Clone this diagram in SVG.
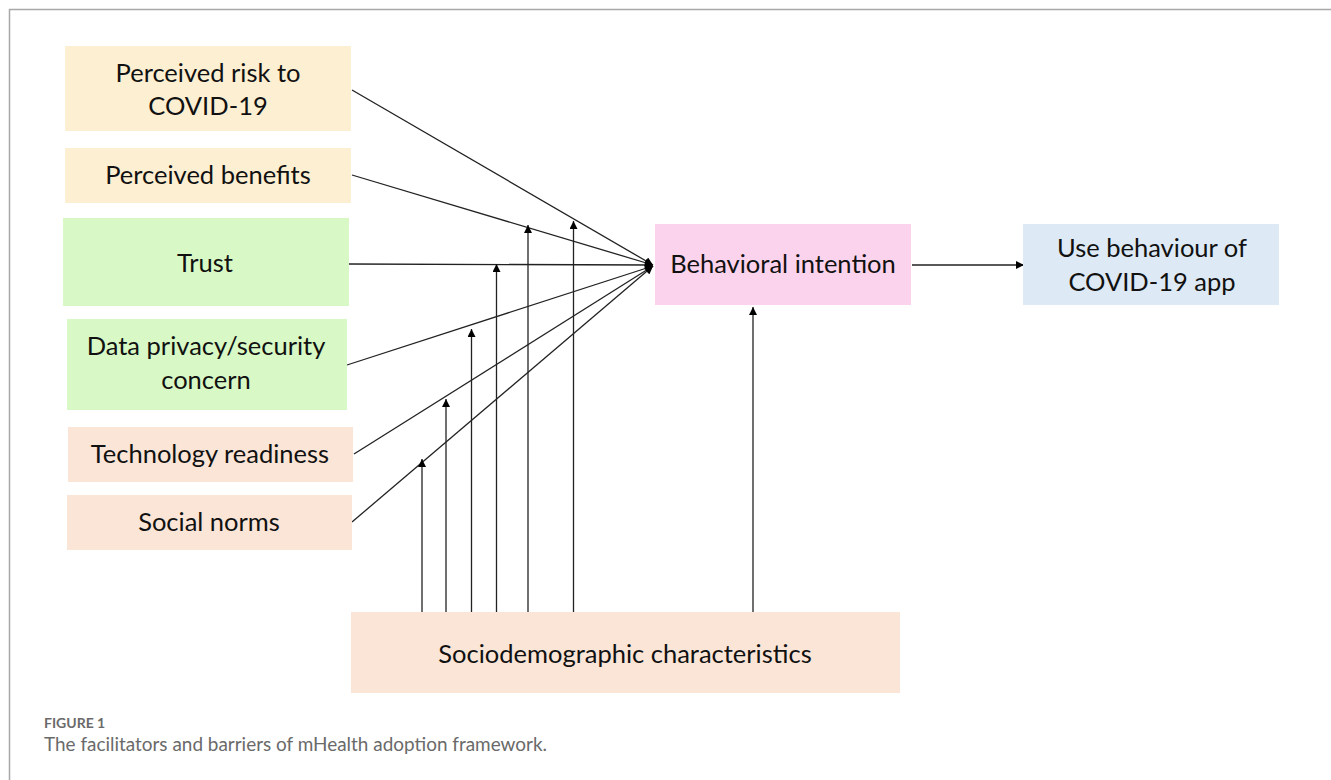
<svg xmlns="http://www.w3.org/2000/svg" width="1331" height="780" viewBox="0 0 1331 780">
<defs>
<marker id="ah" viewBox="0 0 10 10" refX="10" refY="5" markerWidth="10" markerHeight="8" markerUnits="userSpaceOnUse" orient="auto">
<path d="M0,0 L10,5 L0,10 z" fill="#000"/>
</marker>
</defs>
<style>
.lbl{font-family:Lato,"Liberation Sans",sans-serif;font-size:25.5px;fill:#111;text-anchor:middle}
.yel{fill:#fdefd2}
.grn{fill:#d8f9c5}
.pch{fill:#fae5d7}
.pnk{fill:#fcd3ec}
.blu{fill:#dde9f5}
.ln{stroke:#222;stroke-width:1.3;fill:none;marker-end:url(#ah)}
.cap{font-family:Lato,"Liberation Sans",sans-serif;fill:#6a6a6a}
</style>
<rect width="1331" height="780" fill="#fff"/>
<path d="M9.5,780 V9.5 H1331" fill="none" stroke="#a8a8a8" stroke-width="1.5"/>

<g id="connectors">
<line class="ln" x1="352" y1="90" x2="653" y2="265"/>
<line class="ln" x1="352" y1="175" x2="653" y2="265"/>
<line class="ln" x1="349" y1="264" x2="653" y2="265"/>
<line class="ln" x1="347" y1="365" x2="653" y2="266"/>
<line class="ln" x1="354" y1="454" x2="653" y2="266"/>
<line class="ln" x1="352" y1="522" x2="653" y2="266"/>
<line class="ln" x1="422" y1="612" x2="422" y2="459"/>
<line class="ln" x1="446" y1="612" x2="446" y2="399"/>
<line class="ln" x1="471.5" y1="612" x2="471.5" y2="329"/>
<line class="ln" x1="496.5" y1="612" x2="496.5" y2="264"/>
<line class="ln" x1="528" y1="612" x2="528" y2="225"/>
<line class="ln" x1="573.5" y1="612" x2="573.5" y2="221"/>
<line class="ln" x1="753" y1="612" x2="753" y2="307"/>
<line class="ln" x1="912" y1="265" x2="1024" y2="265"/>
</g>

<g id="n-risk">
<rect class="yel" x="65" y="46" width="286" height="85"/>
<text class="lbl" x="208" y="82">Perceived risk to</text>
<text class="lbl" x="208" y="115">COVID-19</text>
</g>
<g id="n-benefits">
<rect class="yel" x="65" y="148" width="286" height="55"/>
<text class="lbl" x="208" y="184">Perceived benefits</text>
</g>
<g id="n-trust">
<rect class="grn" x="63" y="218" width="286" height="88"/>
<text class="lbl" x="205" y="272">Trust</text>
</g>
<g id="n-privacy">
<rect class="grn" x="67" y="319" width="280" height="91"/>
<text class="lbl" x="206" y="355">Data privacy/security</text>
<text class="lbl" x="206" y="389">concern</text>
</g>
<g id="n-tech">
<rect class="pch" x="68" y="427" width="285" height="55"/>
<text class="lbl" x="210" y="463">Technology readiness</text>
</g>
<g id="n-social">
<rect class="pch" x="67" y="495" width="285" height="55"/>
<text class="lbl" x="209" y="531">Social norms</text>
</g>
<g id="n-intention">
<rect class="pnk" x="655" y="224" width="256" height="81"/>
<text class="lbl" x="783" y="273">Behavioral intention</text>
</g>
<g id="n-use">
<rect class="blu" x="1023" y="224" width="256" height="81"/>
<text class="lbl" x="1152" y="257">Use behaviour of</text>
<text class="lbl" x="1152" y="291">COVID-19 app</text>
</g>
<g id="n-socio">
<rect class="pch" x="351" y="612" width="549" height="81"/>
<text class="lbl" x="625" y="663">Sociodemographic characteristics</text>
</g>

<g id="caption">
<text class="cap" x="44" y="728" font-size="14" font-weight="bold">FIGURE 1</text>
<text class="cap" x="44" y="751" font-size="18.5" textLength="503" lengthAdjust="spacingAndGlyphs">The facilitators and barriers of mHealth adoption framework.</text>
</g>
</svg>
